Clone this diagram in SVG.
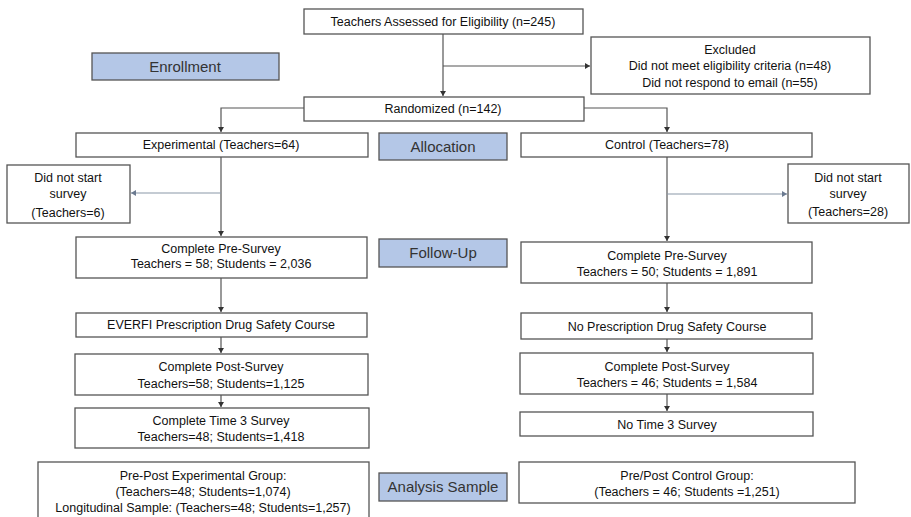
<svg xmlns="http://www.w3.org/2000/svg" width="911" height="517" viewBox="0 0 911 517">
<defs>
<marker id="ah" markerWidth="6" markerHeight="6" refX="5" refY="3" orient="auto" markerUnits="userSpaceOnUse">
<path d="M0,0 L5,3 L0,6 Z" fill="#333"/>
</marker>
<marker id="ahb" markerWidth="6" markerHeight="6" refX="5" refY="3" orient="auto" markerUnits="userSpaceOnUse">
<path d="M0,0 L5,3 L0,6 Z" fill="#6b7a90"/>
</marker>
<style>
.box{fill:#fff;stroke:#555;stroke-width:1.3}
.lab{fill:#b4c7e7;stroke:#555;stroke-width:1.3}
text{font-family:"Liberation Sans",Arial,sans-serif;font-size:12.5px;fill:#111;text-anchor:middle}
.big{font-size:15px;fill:#333}
.ln{fill:none;stroke:#555;stroke-width:1.2}
.lnb{fill:none;stroke:#8a97a8;stroke-width:1.2}
</style>
</defs>
<rect width="911" height="517" fill="#fff"/>
<g id="connectors">
<path class="ln" d="M443,34 V96" marker-end="url(#ah)"/>
<path class="ln" d="M443,66 H590" marker-end="url(#ah)"/>
<path class="ln" d="M304,108 H221 V132" marker-end="url(#ah)"/>
<path class="ln" d="M584,108 H667 V132" marker-end="url(#ah)"/>
<path class="ln" d="M221,157 V236" marker-end="url(#ah)"/>
<path class="lnb" d="M221,193 H131" marker-end="url(#ahb)"/>
<path class="ln" d="M667,157 V241" marker-end="url(#ah)"/>
<path class="lnb" d="M667,194 H787" marker-end="url(#ahb)"/>
<path class="ln" d="M221,278 V312" marker-end="url(#ah)"/>
<path class="ln" d="M221,337 V353" marker-end="url(#ah)"/>
<path class="ln" d="M221,395 V407" marker-end="url(#ah)"/>
<path class="ln" d="M667,283 V312" marker-end="url(#ah)"/>
<path class="ln" d="M667,339 V352" marker-end="url(#ah)"/>
<path class="ln" d="M667,394 V411" marker-end="url(#ah)"/>
</g>
<g id="assessed"><rect class="box" x="304" y="9" width="279" height="25"/><text x="443" y="26">Teachers Assessed for Eligibility (n=245)</text></g>
<g id="enrollment"><rect class="lab" x="92" y="53" width="187" height="27"/><text class="big" x="185" y="72">Enrollment</text></g>
<g id="excluded"><rect class="box" x="591" y="37" width="279" height="57"/>
<text x="730" y="54">Excluded</text><text x="730" y="70">Did not meet eligibility criteria (n=48)</text><text x="730" y="87">Did not respond to email (n=55)</text></g>
<g id="randomized"><rect class="box" x="304" y="97" width="280" height="24"/><text x="443" y="113">Randomized (n=142)</text></g>
<g id="experimental"><rect class="box" x="76" y="133" width="292" height="24"/><text x="221" y="149">Experimental (Teachers=64)</text></g>
<g id="allocation"><rect class="lab" x="379" y="133" width="128" height="27"/><text class="big" x="443" y="152">Allocation</text></g>
<g id="control"><rect class="box" x="521" y="133" width="291" height="24"/><text x="667" y="149">Control (Teachers=78)</text></g>
<g id="nostart-exp"><rect class="box" x="7" y="165" width="123" height="58"/>
<text x="68" y="182">Did not start</text><text x="68" y="198">survey</text><text x="68" y="217">(Teachers=6)</text></g>
<g id="nostart-ctl"><rect class="box" x="788" y="164" width="121" height="59"/>
<text x="848" y="182">Did not start</text><text x="848" y="198">survey</text><text x="848" y="216">(Teachers=28)</text></g>
<g id="pre-exp"><rect class="box" x="76" y="237" width="291" height="41"/>
<text x="221" y="253">Complete Pre-Survey</text><text x="221" y="268">Teachers = 58; Students = 2,036</text></g>
<g id="followup"><rect class="lab" x="379" y="239" width="128" height="28"/><text class="big" x="443" y="258">Follow-Up</text></g>
<g id="pre-ctl"><rect class="box" x="521" y="242" width="291" height="41"/>
<text x="667" y="260">Complete Pre-Survey</text><text x="667" y="276">Teachers = 50; Students = 1,891</text></g>
<g id="everfi"><rect class="box" x="76" y="313" width="291" height="24"/><text x="221" y="329">EVERFI Prescription Drug Safety Course</text></g>
<g id="nocourse"><rect class="box" x="521" y="313" width="291" height="26"/><text x="667" y="331">No Prescription Drug Safety Course</text></g>
<g id="post-exp"><rect class="box" x="75" y="354" width="293" height="41"/>
<text x="221" y="371">Complete Post-Survey</text><text x="221" y="388">Teachers=58; Students=1,125</text></g>
<g id="post-ctl"><rect class="box" x="520" y="353" width="293" height="41"/>
<text x="667" y="371">Complete Post-Survey</text><text x="667" y="387">Teachers = 46; Students = 1,584</text></g>
<g id="t3-exp"><rect class="box" x="75" y="408" width="294" height="40"/>
<text x="221" y="425">Complete Time 3 Survey</text><text x="221" y="441">Teachers=48; Students=1,418</text></g>
<g id="t3-ctl"><rect class="box" x="520" y="412" width="293" height="24"/><text x="667" y="429">No Time 3 Survey</text></g>
<g id="analysis-exp"><rect class="box" x="38" y="462" width="331" height="60"/>
<text x="203" y="480">Pre-Post Experimental Group:</text><text x="203" y="496">(Teachers=48; Students=1,074)</text><text x="203" y="512">Longitudinal Sample: (Teachers=48; Students=1,257)</text></g>
<g id="analysis"><rect class="lab" x="379" y="473" width="128" height="28"/><text class="big" x="443" y="492">Analysis Sample</text></g>
<g id="analysis-ctl"><rect class="box" x="519" y="462" width="336" height="41"/>
<text x="687" y="480">Pre/Post Control Group:</text><text x="687" y="496">(Teachers = 46; Students =1,251)</text></g>
</svg>
